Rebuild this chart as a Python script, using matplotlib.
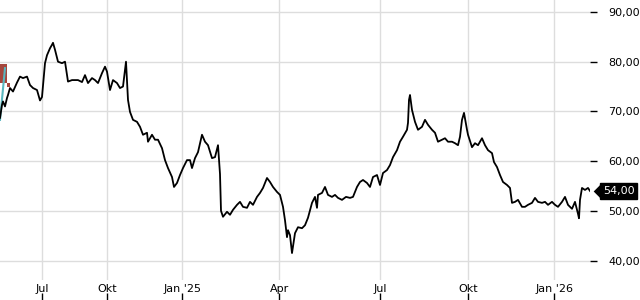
import matplotlib
matplotlib.use("Agg")
import matplotlib.pyplot as plt
import matplotlib.transforms as mtransforms

# session index along the time axis and closing price
t = [0, 2, 3, 5, 7, 8, 10, 13, 17, 20, 23, 27, 30, 33, 37, 40, 42,
     45, 47, 50, 52, 53, 55, 58, 62, 65, 68, 72, 75, 78, 82, 85, 88, 92, 95, 98,
     102, 105, 107, 110, 113, 117, 120, 123, 126, 128, 130, 133, 137, 140, 143,
     147, 148, 152, 155, 158, 162, 165, 168, 172, 174, 177, 180, 183, 187, 190,
     192, 195, 198, 202, 205, 208, 212, 215, 218,
     220, 221, 223, 227, 230, 233, 237, 240, 243, 247, 250, 253, 257, 260, 263,
     267, 270, 273, 277, 280, 283, 285, 287, 288, 290, 292, 295, 298, 302, 305,
     308, 312, 315, 317, 318, 322, 325, 328, 332, 335, 338, 342, 346, 350, 353,
     357, 360, 363, 367, 370, 373, 377, 380, 383, 387, 390, 393, 397, 400, 403,
     407, 408, 409, 410, 412, 415, 418, 422, 425, 428, 432, 435, 438, 442, 445,
     448, 452, 455, 458, 460, 462, 464, 467, 468, 472, 475, 478, 482, 485, 488,
     492, 494, 497, 500, 503, 507, 510, 512, 515, 518, 522, 525, 528, 532, 535,
     538, 542, 545, 548, 552, 555, 558, 562, 565, 568, 572, 575, 578, 579, 580,
     582, 585, 588, 590]
price = [68.7, 71.3, 72.0, 71.0, 72.7, 73.3, 74.7, 74.0, 75.8, 77.0, 76.7, 77.0, 75.3, 74.7, 74.3, 72.2, 72.9,
         79.7, 81.3, 82.7, 83.4, 83.8, 82.4, 80.0, 79.7, 80.0, 76.0, 76.3, 76.3, 76.3, 75.9, 77.3, 75.7, 76.7, 76.3, 75.7,
         77.7, 79.0, 78.0, 74.3, 76.3, 75.7, 74.7, 75.0, 80.0, 72.3, 69.9, 68.3, 67.9, 66.9, 65.3,
         65.7, 63.9, 65.3, 64.3, 64.3, 62.6, 60.2, 58.6, 56.8, 54.8, 55.6, 57.2, 58.6, 60.2, 60.2,
         58.6, 60.6, 61.8, 65.3, 63.9, 63.2, 60.6, 60.8, 63.2,
         57.4, 50.0, 48.8, 49.8, 49.2, 50.2, 51.2, 51.8, 50.8, 50.6, 51.8, 51.2, 52.8, 53.6, 54.6,
         56.6, 55.8, 54.8, 53.8, 53.2, 50.8, 48.1, 44.7, 46.1, 45.1, 41.5, 45.5, 46.7, 46.5, 47.1,
         48.6, 51.6, 52.8, 50.6, 53.2, 53.6, 54.8, 53.2, 52.8, 53.2, 52.6, 52.2, 52.8, 52.6, 52.8,
         54.8, 55.8, 56.2, 55.6, 54.8, 56.8, 57.2, 55.2, 57.6, 58.2, 59.2, 60.8, 62.2, 63.9, 64.9,
         66.3, 67.7, 72.3, 73.3, 70.3, 67.9, 66.3, 66.9, 68.3, 67.3, 66.3, 65.7, 63.9, 64.3, 64.6,
         63.9, 63.9, 63.6, 63.2, 64.9, 68.3, 69.7, 66.3, 65.3, 62.8, 63.6, 63.2, 64.6, 63.2, 62.2,
         61.6, 59.8, 58.8, 57.2, 55.8, 55.2, 54.6, 51.6, 51.8, 52.2, 50.8, 50.8, 51.2, 51.6, 52.6,
         51.8, 51.6, 51.8, 51.2, 51.8, 51.2, 50.8, 51.8, 52.8, 51.2, 50.4, 51.8, 49.4, 48.5, 52.2,
         54.6, 54.2, 54.6, 54.0]

# partly visible candles at the left edge
red_x = [3.5, 8.5]
red_w = [7, 3]
red_lo = [75.7, 74.9]
red_hi = [79.5, 75.7]
teal_x = [0, 5]
teal_y = [68.3, 78.7]

tick_pos = [42.3, 106.7, 182.3, 279.3, 380.3, 468.3, 554.3]
tick_lab = ["Jul", "Okt", "Jan '25", "Apr", "Jul", "Okt", "Jan '26"]
y_ticks = [40, 50, 60, 70, 80, 90]

fig = plt.figure(figsize=(6.4, 3.0), dpi=100)
ax = fig.add_axes([0, 20 / 300, 590 / 640, 280 / 300])

ax.bar(red_x, [h - l for h, l in zip(red_hi, red_lo)], width=red_w, bottom=red_lo,
       color="#a5473d", zorder=2)
ax.plot(teal_x, teal_y, color="#5ab7bf", lw=1.5, zorder=3)
ax.plot(t, price, color="black", lw=1.3, zorder=4)

ax.set_xlim(0, 590)
ax.set_ylim(36.08, 92.41)

for s in ax.spines.values():
    s.set_visible(False)
ax.grid(True, color="#dddddd", lw=1)
ax.set_axisbelow(True)

ax.set_xticks(tick_pos)
ax.set_xticklabels(tick_lab)
ax.tick_params(axis="x", length=0, pad=3, labelsize=8)

ax.yaxis.tick_right()
ax.set_yticks(y_ticks)
ax.set_yticklabels([f"{v:.2f}".replace(".", ",") for v in y_ticks])
ax.tick_params(axis="y", length=5, width=1, pad=8, labelsize=8)

# small tick marks under the date labels
tk = fig.add_axes([0, 0, 590 / 640, 8 / 300])
tk.set_xlim(ax.get_xlim())
tk.set_xticks(tick_pos)
tk.tick_params(axis="x", direction="in", length=5, width=1, labelbottom=False)
tk.set_yticks([])
tk.patch.set_visible(False)
for s in tk.spines.values():
    s.set_visible(False)

# last price tag
last = price[-1]
trans = mtransforms.blended_transform_factory(ax.transAxes, ax.transData)
ax.plot([1 + 6.5 / 590], [last], marker=[(-0.5, 0), (0.5, -1), (0.5, 1)], ms=11,
        mew=0, color="black", transform=trans, clip_on=False)
ax.text(1 + 13 / 590, last, f"{last:.2f}".replace(".", ","), transform=trans,
        color="white", fontsize=8, va="center", ha="left",
        bbox=dict(boxstyle="square,pad=0.25", fc="black", ec="black"))

fig.savefig("out.png", dpi=100)
